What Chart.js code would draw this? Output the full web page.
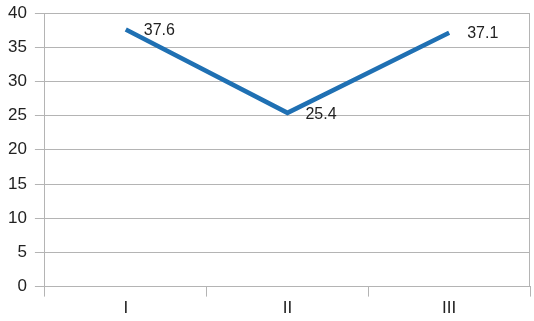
<!DOCTYPE html>
<html>
<head>
<meta charset="utf-8">
<script src="https://cdn.jsdelivr.net/npm/chart.js@4"></script>
<style>
  html, body { margin: 0; padding: 0; background: #fff; }
  #wrap { width: 534px; height: 321px; }
</style>
</head>
<body>
<div id="wrap"><canvas id="chart"></canvas></div>
<script>
"use strict"

var categories = ["I", "II", "III"];
var values = [37.6, 25.4, 37.1];
var yTicks = [0, 5, 10, 15, 20, 25, 30, 35, 40];

// value labels to the right of each point
var pointLabels = {
    id: "pointLabels",
    afterDatasetsDraw: function(chart){
        var ctx = chart.ctx;
        var meta = chart.getDatasetMeta(0);
        ctx.save();
        ctx.font = "16px 'Liberation Sans', Arial, sans-serif";
        ctx.fillStyle = "#222";
        ctx.textBaseline = "middle";
        for (var i in meta.data){
            var p = meta.data[i];
            var dy = (i == 1) ? 2 : 1;
            ctx.fillText(String(values[i]), p.x + 18, p.y + dy);
        }
        ctx.restore();
    }
};

// plot area frame (right edge)
var frame = {
    id: "frame",
    beforeDatasetsDraw: function(chart){
        var a = chart.chartArea;
        var ctx = chart.ctx;
        ctx.save();
        ctx.strokeStyle = "#b4b4b4";
        ctx.lineWidth = 1;
        ctx.beginPath();
        ctx.moveTo(a.right - 0.5, a.top);
        ctx.lineTo(a.right - 0.5, a.bottom);
        ctx.stroke();
        ctx.restore();
    }
};

new Chart(document.getElementById("chart"), {
    type: "line",
    data: {
        labels: categories,
        datasets: [{
            data: values,
            borderColor: "#1f70b3",
            borderWidth: 4.5,
            pointRadius: 0,
            tension: 0,
            fill: false
        }]
    },
    options: {
        responsive: true,
        maintainAspectRatio: false,
        animation: false,
        layout: { padding: { top: 13, right: 4, left: 0, bottom: 0 } },
        plugins: { legend: { display: false }, tooltip: { enabled: false } },
        scales: {
            x: {
                offset: true,
                grid: { offset: true, drawOnChartArea: false, drawTicks: true, tickLength: 10, color: "#b4b4b4" },
                border: { color: "#b4b4b4" },
                ticks: { color: "#222", padding: 2, font: { family: "'Liberation Sans', Arial, sans-serif", size: 17 } }
            },
            y: {
                min: 0,
                max: 40,
                afterBuildTicks: function(axis){
                    axis.ticks = yTicks.map(function(v){ return { value: v }; });
                },
                grid: { color: "#b4b4b4", tickLength: 10 },
                border: { color: "#b4b4b4" },
                ticks: { color: "#222", padding: 8, font: { family: "'Liberation Sans', Arial, sans-serif", size: 17, lineHeight: 0.5 } }
            }
        }
    },
    plugins: [frame, pointLabels]
});
</script>
</body>
</html>
